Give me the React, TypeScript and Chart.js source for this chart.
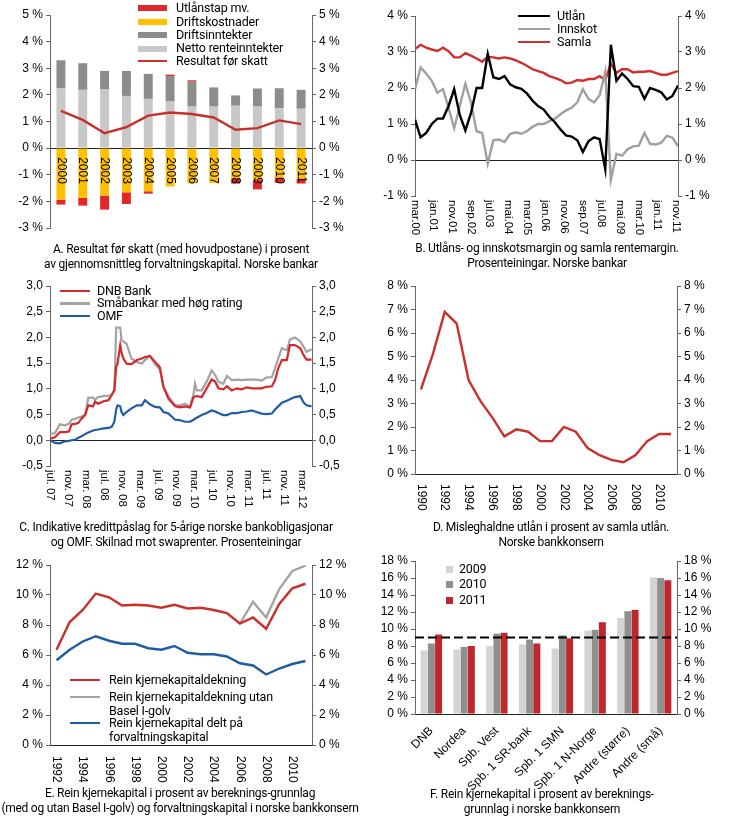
import React, { useEffect, useRef } from 'react';
import { Chart, registerables } from 'chart.js';

Chart.register(...registerables);

// ---------------- Panel A ----------------
const A_YEARS = ['2000', '2001', '2002', '2003', '2004', '2005', '2006', '2007', '2008', '2009', '2010', '2011'];
const A_NETTO = [2.25, 2.19, 2.2, 1.96, 1.85, 1.75, 1.56, 1.56, 1.59, 1.56, 1.5, 1.48];
const A_DRIFTSINNT = [1.05, 1.0, 0.7, 0.94, 0.94, 0.96, 0.94, 0.72, 0.39, 0.68, 0.75, 0.71];
const A_DRIFTSKOST = [-1.94, -1.87, -1.79, -1.66, -1.62, -1.44, -1.33, -1.31, -1.14, -1.18, -1.1, -1.14];
const A_UTLANSTAP = [-0.18, -0.29, -0.52, -0.44, -0.09, 0.05, 0.05, 0, -0.19, -0.37, -0.2, -0.19];
const A_RESULTAT = [1.4, 1.06, 0.56, 0.79, 1.22, 1.34, 1.28, 1.15, 0.69, 0.75, 1.04, 0.9];
const A_NAMES = ['Utlånstap mv.', 'Driftskostnader', 'Driftsinntekter', 'Netto renteinntekter', 'Resultat før skatt'];

// ---------------- Panel B ----------------
const B_MONTHS = [0, 3, 6, 9, 12, 15, 18, 21, 24, 27, 30, 33, 36, 39, 42, 45, 48, 51, 54, 57, 60, 63, 66, 69, 72, 75, 78, 81, 84, 87, 90, 93, 96, 99, 102, 105, 108, 111, 114, 117, 120, 123, 126, 129, 132, 135, 138, 141];
const B_UTLAN = [1.12, 0.63, 0.75, 1.0, 1.15, 1.15, 1.5, 1.97, 1.25, 0.82, 1.3, 2.0, 2.0, 2.95, 2.3, 2.25, 2.33, 2.1, 2.02, 1.98, 1.85, 1.65, 1.5, 1.4, 1.2, 1.05, 0.85, 0.68, 0.65, 0.55, 0.22, 0.52, 0.63, 0.58, -0.25, 3.2, 2.2, 2.4, 2.25, 2.05, 2.03, 1.7, 2.0, 1.95, 1.88, 1.68, 1.78, 2.07];
const B_INNSKOT = [1.97, 2.57, 2.4, 2.2, 1.87, 1.97, 1.45, 0.88, 1.5, 2.12, 1.6, 0.8, 0.75, -0.1, 0.55, 0.57, 0.5, 0.72, 0.77, 0.73, 0.8, 0.92, 1.0, 1.0, 1.08, 1.15, 1.27, 1.38, 1.45, 1.6, 1.97, 1.7, 1.6, 1.8, 2.45, -0.55, 0.17, 0.12, 0.3, 0.38, 0.4, 0.75, 0.45, 0.43, 0.48, 0.67, 0.62, 0.38];
const B_SAMLA = [3.08, 3.2, 3.12, 3.07, 3.03, 3.12, 3.02, 2.85, 2.85, 2.97, 2.9, 2.82, 2.73, 2.87, 2.85, 2.82, 2.85, 2.82, 2.77, 2.7, 2.62, 2.52, 2.47, 2.42, 2.33, 2.28, 2.22, 2.13, 2.15, 2.22, 2.2, 2.25, 2.25, 2.33, 2.22, 2.67, 2.42, 2.52, 2.52, 2.43, 2.45, 2.45, 2.47, 2.42, 2.37, 2.37, 2.42, 2.47];
const B_TICK_MONTHS = [0, 10, 20, 30, 40, 50, 60, 70, 80, 90, 100, 110, 120, 130, 140];
const B_TICK_LABELS = ['mar.00', 'jan.01', 'nov.01', 'sep.02', 'jul.03', 'mai.04', 'mar.05', 'jan.06', 'nov.06', 'sep.07', 'jul.08', 'mai.09', 'mar.10', 'jan.11', 'nov.11'];
const B_NAMES = ['Utlån', 'Innskot', 'Samla'];

// ---------------- Panel C ----------------
const C_MONTHS = [0, 1.1, 2.2, 3.3, 4.2, 4.8, 5.6, 6.3, 7.0, 7.8, 8.5, 9.6, 10.0, 10.7, 11.9, 13.0, 13.7, 14.3, 14.7, 15.0, 15.6, 15.9, 16.3, 17.0, 18.1, 19.3, 20.4, 21.1, 22.2, 23.3, 24.4, 25.2, 26.3, 27.8, 28.9, 30.0, 31.1, 31.9, 32.2, 32.6, 33.7, 34.8, 35.9, 36.7, 37.4, 38.5, 39.3, 40.4, 41.5, 42.6, 43.7, 44.8, 45.9, 47.0, 48.1, 49.3, 50.0, 50.7, 51.5, 52.6, 53.3, 54.4, 55.6, 56.3, 57.0, 58.1];
const C_DNB = [0.03, 0.06, 0.16, 0.16, 0.17, 0.31, 0.32, 0.34, 0.42, 0.49, 0.68, 0.66, 0.75, 0.71, 0.76, 0.78, 0.88, 0.97, 1.43, 1.49, 1.85, 1.7, 1.59, 1.49, 1.48, 1.56, 1.59, 1.62, 1.64, 1.53, 1.42, 1.04, 0.81, 0.66, 0.64, 0.66, 0.64, 0.84, 0.85, 0.86, 0.84, 1.01, 1.18, 1.14, 1.01, 0.99, 1.05, 0.97, 1.01, 0.99, 1.03, 1.01, 1.01, 1.01, 1.04, 1.05, 1.17, 1.4, 1.56, 1.56, 1.85, 1.85, 1.79, 1.66, 1.57, 1.57];
const C_SMA = [0.12, 0.14, 0.31, 0.29, 0.32, 0.4, 0.42, 0.44, 0.46, 0.49, 0.83, 0.83, 0.79, 0.84, 0.86, 0.87, 0.88, 0.97, 2.19, 2.19, 2.19, 1.95, 1.92, 1.88, 1.59, 1.52, 1.49, 1.56, 1.64, 1.48, 1.38, 1.04, 0.86, 0.68, 0.68, 0.71, 0.65, 0.91, 1.1, 0.97, 0.97, 1.14, 1.36, 1.27, 1.14, 1.1, 1.25, 1.17, 1.18, 1.17, 1.18, 1.18, 1.18, 1.16, 1.22, 1.23, 1.4, 1.59, 1.79, 1.75, 1.96, 2.0, 1.92, 1.82, 1.72, 1.77];
const C_OMF = [0.0, -0.05, -0.06, -0.02, -0.01, 0.0, 0.01, 0.05, 0.08, 0.12, 0.15, 0.19, 0.2, 0.21, 0.23, 0.24, 0.26, 0.36, 0.6, 0.68, 0.66, 0.55, 0.49, 0.55, 0.62, 0.68, 0.68, 0.78, 0.7, 0.65, 0.64, 0.55, 0.52, 0.4, 0.39, 0.36, 0.36, 0.4, 0.42, 0.44, 0.49, 0.53, 0.58, 0.56, 0.53, 0.49, 0.49, 0.53, 0.53, 0.55, 0.56, 0.58, 0.55, 0.52, 0.51, 0.52, 0.6, 0.66, 0.73, 0.77, 0.8, 0.84, 0.86, 0.74, 0.68, 0.66];
const C_TICK_MONTHS = [0, 4, 8, 12, 16, 20, 24, 28, 32, 36, 40, 44, 48, 52, 56];
const C_TICK_LABELS = ['jul. 07', 'nov. 07', 'mar. 08', 'jul. 08', 'nov. 08', 'mar. 09', 'jul. 09', 'nov. 09', 'mar. 10', 'jul. 10', 'nov. 10', 'mar. 11', 'jul. 11', 'nov. 11', 'mar. 12'];
const C_NAMES = ['DNB Bank', 'Småbankar med høg rating', 'OMF'];

// ---------------- Panel D ----------------
const D_YEARS = ['1990', '1991', '1992', '1993', '1994', '1995', '1996', '1997', '1998', '1999', '2000', '2001', '2002', '2003', '2004', '2005', '2006', '2007', '2008', '2009', '2010', '2011'];
const D_MISLEG = [3.6, 5.1, 6.9, 6.4, 4.0, 3.1, 2.4, 1.6, 1.9, 1.8, 1.4, 1.4, 2.0, 1.8, 1.1, 0.8, 0.6, 0.5, 0.8, 1.4, 1.7, 1.7];

// ---------------- Panel E ----------------
const E_YEARS = ['1992', '1993', '1994', '1995', '1996', '1997', '1998', '1999', '2000', '2001', '2002', '2003', '2004', '2005', '2006', '2007', '2008', '2009', '2010', '2011'];
const E_REIN = [6.35, 8.2, 9.0, 10.1, 9.85, 9.3, 9.35, 9.3, 9.15, 9.35, 9.1, 9.15, 9.0, 8.8, 8.1, 8.5, 7.75, 9.4, 10.45, 10.75];
const E_UTAN_GOLV = [null, null, null, null, null, null, null, null, null, null, null, null, null, null, 8.1, 9.55, 8.5, 10.4, 11.6, 11.95];
const E_FORVALT = [5.65, 6.35, 6.9, 7.25, 6.95, 6.75, 6.75, 6.45, 6.35, 6.6, 6.15, 6.05, 6.05, 5.9, 5.45, 5.3, 4.7, 5.1, 5.4, 5.6];
const E_NAMES = [['Rein kjernekapitaldekning'], ['Rein kjernekapitaldekning utan', 'Basel I-golv'], ['Rein kjernekapital delt på', 'forvaltningskapital']];

// ---------------- Panel F ----------------
const F_BANKS = ['DNB', 'Nordea', 'Spb. Vest', 'Spb. 1 SR-bank', 'Spb. 1 SMN', 'Spb. 1 N-Norge', 'Andre (større)', 'Andre (små)'];
const F_2009 = [7.5, 7.6, 8.0, 8.2, 7.7, 9.8, 11.3, 16.1];
const F_2010 = [8.3, 7.9, 9.45, 8.75, 9.25, 9.9, 12.1, 16.0];
const F_2011 = [9.35, 8.0, 9.55, 8.3, 8.9, 10.8, 12.25, 15.75];
const F_THRESHOLD = 9;
const F_NAMES = ['2009', '2010', '2011'];

// ---------------- captions ----------------
const CAP_A = ['A. Resultat før skatt (med hovudpostane) i prosent', 'av gjennomsnittleg forvaltningskapital. Norske bankar'];
const CAP_B = ['B. Utlåns- og innskotsmargin og samla rentemargin.', 'Prosenteiningar. Norske bankar'];
const CAP_C = ['C. Indikative kredittpåslag for 5-årige norske bankobligasjonar', 'og OMF. Skilnad mot swaprenter. Prosenteiningar'];
const CAP_D = ['D. Misleghaldne utlån i prosent av samla utlån.', 'Norske bankkonsern'];
const CAP_E = ['E. Rein kjernekapital i prosent av bereknings-grunnlag', '(med og utan Basel I-golv) og forvaltningskapital i norske bankkonsern'];
const CAP_F = ['F. Rein kjernekapital i prosent av bereknings-', 'grunnlag i norske bankkonsern'];

// ---------------- styling ----------------
const TICK_FONT = '"Liberation Sans", Arial, sans-serif';
const NARROW = 'Roboto, "Liberation Sans", sans-serif';

const RED = '#c8302c';
const BRIGHT_RED = '#e2272b';
const YELLOW = '#ffc000';
const DARK_GREY = '#8c8c8c';
const LIGHT_GREY = '#c8c8c8';

const pct = (v: any) => `${v} %`;
const comma = (v: any) => Number(v).toFixed(1).replace('.', ',');

function yAxis(position: 'left' | 'right', min: number, max: number, step: number, fmt: (v: any) => string, width: number, zeroLine: boolean, stacked = false) {
  return {
    position,
    min,
    max,
    stacked,
    ticks: { stepSize: step, callback: fmt, autoSkip: false, color: '#000', font: { family: TICK_FONT, size: 12 }, padding: 3 },
    grid: {
      display: true,
      drawOnChartArea: zeroLine,
      drawTicks: true,
      tickLength: 4,
      tickColor: '#666',
      color: (c: any) => (c.tick && c.tick.value === 0 ? '#222' : 'rgba(0,0,0,0)'),
      lineWidth: 1,
    },
    border: { display: true, color: '#666', width: 1 },
    afterFit: (s: any) => {
      s.width = width;
    },
  };
}

function vLabels(values: number[], labels: string[], offset: number, size: number, baseValue?: number) {
  return {
    id: 'vlabels',
    afterDraw(chart: any) {
      const ctx = chart.ctx;
      const xs = chart.scales.x;
      const y0 = baseValue !== undefined ? chart.scales.y.getPixelForValue(baseValue) + offset : chart.chartArea.bottom + offset;
      ctx.save();
      ctx.fillStyle = '#000';
      ctx.font = `${size}px ${TICK_FONT}`;
      ctx.textAlign = 'left';
      ctx.textBaseline = 'middle';
      values.forEach((v, i) => {
        const x = xs.getPixelForValue(v);
        ctx.save();
        ctx.translate(x, y0);
        ctx.rotate(Math.PI / 2);
        ctx.fillText(labels[i], 0, 0);
        ctx.restore();
      });
      ctx.restore();
    },
  };
}

const dashedLine = (value: number) => ({
  id: 'threshold',
  afterDatasetsDraw(chart: any) {
    const ctx = chart.ctx;
    const y = chart.scales.y.getPixelForValue(value);
    const { left, right } = chart.chartArea;
    ctx.save();
    ctx.strokeStyle = '#000';
    ctx.lineWidth = 2;
    ctx.setLineDash([9, 4]);
    ctx.beginPath();
    ctx.moveTo(left, y);
    ctx.lineTo(right, y);
    ctx.stroke();
    ctx.restore();
  },
});

const baseOptions = (top: number, bottom: number) => ({
  responsive: false,
  animation: false,
  devicePixelRatio: 1,
  layout: { padding: { top, bottom, left: 0, right: 0 } },
  plugins: { legend: { display: false }, tooltip: { enabled: false } },
  elements: { point: { radius: 0 }, line: { tension: 0 } },
});

// ---------------- chart configs ----------------
function configA(): any {
  return {
    type: 'bar',
    data: {
      labels: A_YEARS,
      datasets: [
        { type: 'line', label: A_NAMES[4], data: A_RESULTAT, borderColor: RED, borderWidth: 2.4, pointRadius: 0, stack: 'line', yAxisID: 'y' },
        { label: A_NAMES[3], data: A_NETTO, backgroundColor: LIGHT_GREY, stack: 'bars', yAxisID: 'y' },
        { label: A_NAMES[2], data: A_DRIFTSINNT, backgroundColor: DARK_GREY, stack: 'bars', yAxisID: 'y' },
        { label: A_NAMES[1], data: A_DRIFTSKOST, backgroundColor: YELLOW, stack: 'bars', yAxisID: 'y' },
        { label: A_NAMES[0], data: A_UTLANSTAP, backgroundColor: BRIGHT_RED, stack: 'bars', yAxisID: 'y' },
      ],
    },
    options: {
      ...baseOptions(15, 12),
      datasets: { bar: { categoryPercentage: 1, barPercentage: 0.41 } },
      scales: {
        x: { type: 'category', display: false, stacked: true, offset: true },
        y: yAxis('left', -3, 5, 1, pct, 50, true, true),
        y2: yAxis('right', -3, 5, 1, pct, 53, false),
      },
    },
    plugins: [vLabels(A_YEARS.map((_, i) => i), A_YEARS, 9, 12, 0)],
  };
}

function configB(): any {
  const pts = (arr: number[]) => B_MONTHS.map((m, i) => ({ x: m, y: arr[i] }));
  return {
    type: 'line',
    data: {
      datasets: [
        { label: B_NAMES[0], data: pts(B_UTLAN), borderColor: '#000', borderWidth: 2.4 },
        { label: B_NAMES[1], data: pts(B_INNSKOT), borderColor: '#a0a0a0', borderWidth: 2.4 },
        { label: B_NAMES[2], data: pts(B_SAMLA), borderColor: '#d22e2e', borderWidth: 2.4 },
      ],
    },
    options: {
      ...baseOptions(16, 44),
      scales: {
        x: { type: 'linear', display: false, min: 0, max: 141 },
        y: yAxis('left', -1, 4, 1, pct, 50, true),
        y2: yAxis('right', -1, 4, 1, pct, 52, false),
      },
    },
    plugins: [vLabels(B_TICK_MONTHS, B_TICK_LABELS, 4, 11.5)],
  };
}

function configC(): any {
  const pts = (arr: number[]) => C_MONTHS.map((m, i) => ({ x: m, y: arr[i] }));
  return {
    type: 'line',
    data: {
      datasets: [
        { label: C_NAMES[0], data: pts(C_DNB), borderColor: '#d22a2a', borderWidth: 2.2 },
        { label: C_NAMES[1], data: pts(C_SMA), borderColor: '#a3a3a3', borderWidth: 2.2 },
        { label: C_NAMES[2], data: pts(C_OMF), borderColor: '#1f5ca6', borderWidth: 2.2 },
      ],
    },
    options: {
      ...baseOptions(16, 54),
      scales: {
        x: { type: 'linear', display: false, min: 0, max: 58.2 },
        y: yAxis('left', -0.5, 3, 0.5, comma, 50, true),
        y2: yAxis('right', -0.5, 3, 0.5, comma, 53, false),
      },
    },
    plugins: [vLabels(C_TICK_MONTHS, C_TICK_LABELS, 4, 11.5)],
  };
}

function configD(): any {
  const idx = D_YEARS.map((_, i) => i).filter((i) => i % 2 === 0 && i < D_YEARS.length - 1);
  return {
    type: 'line',
    data: {
      labels: D_YEARS,
      datasets: [{ label: 'Misleghaldne utlån', data: D_MISLEG, borderColor: RED, borderWidth: 2.4 }],
    },
    options: {
      ...baseOptions(16, 46),
      scales: {
        x: { type: 'category', display: false, offset: true },
        y: yAxis('left', 0, 8, 1, pct, 50, true),
        y2: yAxis('right', 0, 8, 1, pct, 53, false),
      },
    },
    plugins: [vLabels(idx, idx.map((i) => D_YEARS[i]), 10, 12)],
  };
}

function configE(): any {
  const idx = E_YEARS.map((_, i) => i).filter((i) => i % 2 === 0);
  return {
    type: 'line',
    data: {
      labels: E_YEARS,
      datasets: [
        { label: E_NAMES[0].join(' '), data: E_REIN, borderColor: RED, borderWidth: 2.4 },
        { label: E_NAMES[1].join(' '), data: E_UTAN_GOLV, borderColor: '#a3a3a3', borderWidth: 2.4 },
        { label: E_NAMES[2].join(' '), data: E_FORVALT, borderColor: '#1f5ca6', borderWidth: 2.4 },
      ],
    },
    options: {
      ...baseOptions(15, 45),
      scales: {
        x: { type: 'category', display: false, offset: true },
        y: yAxis('left', 0, 12, 2, pct, 50, true),
        y2: yAxis('right', 0, 12, 2, pct, 53, false),
      },
    },
    plugins: [vLabels(idx, idx.map((i) => E_YEARS[i]), 11, 12)],
  };
}

function configF(): any {
  return {
    type: 'bar',
    data: {
      labels: F_BANKS,
      datasets: [
        { label: F_NAMES[0], data: F_2009, backgroundColor: '#d4d4d4' },
        { label: F_NAMES[1], data: F_2010, backgroundColor: '#8f8f8f' },
        { label: F_NAMES[2], data: F_2011, backgroundColor: '#c0272d' },
      ],
    },
    options: {
      ...baseOptions(16, 0),
      datasets: { bar: { categoryPercentage: 0.66, barPercentage: 0.97 } },
      scales: {
        x: {
          type: 'category',
          offset: true,
          grid: { display: false },
          border: { display: false },
          ticks: { minRotation: 45, maxRotation: 45, autoSkip: false, color: '#000', font: { family: TICK_FONT, size: 12 }, padding: 2 },
          afterFit: (s: any) => {
            s.height = 76;
          },
        },
        y: yAxis('left', 0, 18, 2, pct, 50, true),
        y2: yAxis('right', 0, 18, 2, pct, 53, false),
      },
    },
    plugins: [dashedLine(F_THRESHOLD)],
  };
}

// ---------------- components ----------------
function ChartBox({ left, top, width, height, make }: { left: number; top: number; width: number; height: number; make: () => any }) {
  const ref = useRef<HTMLCanvasElement>(null);
  useEffect(() => {
    const chart = new Chart(ref.current as HTMLCanvasElement, make());
    return () => chart.destroy();
  }, []);
  return <canvas ref={ref} width={width} height={height} style={{ position: 'absolute', left, top, width, height }} />;
}

type LegendEntry = { lines: string[]; color: string; kind: 'bar' | 'line' | 'square'; y: number };

function Legend({ sx, sw, tx, entries, size = 12.5 }: { sx: number; sw: number; tx: number; entries: LegendEntry[]; size?: number }) {
  return (
    <>
      {entries.map((e, i) => {
        const h = e.kind === 'bar' ? 6 : e.kind === 'line' ? 2.6 : 7;
        const w = e.kind === 'square' ? 7 : sw;
        return (
          <React.Fragment key={i}>
            <div style={{ position: 'absolute', left: sx, top: e.y - h / 2, width: w, height: h, background: e.color }} />
            <div style={{ position: 'absolute', left: tx, top: e.y - 7.5, fontFamily: NARROW, fontSize: size, letterSpacing: '-0.2px', lineHeight: '14.5px', color: '#000', whiteSpace: 'nowrap' }}>
              {e.lines.map((l, j) => (
                <div key={j}>{l}</div>
              ))}
            </div>
          </React.Fragment>
        );
      })}
    </>
  );
}

function Caption({ cx, top, lines }: { cx: number; top: number; lines: string[] }) {
  return (
    <div style={{ position: 'absolute', left: cx - 250, width: 500, top, textAlign: 'center', fontFamily: NARROW, fontSize: 12, letterSpacing: '-0.25px', lineHeight: '15px', color: '#000', whiteSpace: 'nowrap' }}>
      {lines.map((l, i) => (
        <div key={i}>{l}</div>
      ))}
    </div>
  );
}

export default function App() {
  return (
    <div style={{ position: 'absolute', left: 0, top: 0, width: 730, height: 826, background: '#fff', overflow: 'hidden' }}>
      <ChartBox left={0} top={0} width={365} height={240} make={configA} />
      <ChartBox left={365} top={0} width={365} height={240} make={configB} />
      <ChartBox left={0} top={270} width={365} height={250} make={configC} />
      <ChartBox left={365} top={270} width={365} height={250} make={configD} />
      <ChartBox left={0} top={550} width={365} height={240} make={configE} />
      <ChartBox left={365} top={545} width={365} height={245} make={configF} />

      <Legend
        sx={138}
        sw={29}
        tx={176}
        entries={[
          { lines: [A_NAMES[0]], color: BRIGHT_RED, kind: 'bar', y: 8 },
          { lines: [A_NAMES[1]], color: YELLOW, kind: 'bar', y: 22 },
          { lines: [A_NAMES[2]], color: DARK_GREY, kind: 'bar', y: 35 },
          { lines: [A_NAMES[3]], color: LIGHT_GREY, kind: 'bar', y: 48.5 },
          { lines: [A_NAMES[4]], color: RED, kind: 'line', y: 61 },
        ]}
      />
      <Legend
        sx={518}
        sw={32}
        tx={557}
        entries={[
          { lines: [B_NAMES[0]], color: '#000', kind: 'line', y: 16 },
          { lines: [B_NAMES[1]], color: '#a0a0a0', kind: 'line', y: 29 },
          { lines: [B_NAMES[2]], color: '#d22e2e', kind: 'line', y: 42 },
        ]}
      />
      <Legend
        sx={60}
        sw={30}
        tx={97}
        entries={[
          { lines: [C_NAMES[0]], color: '#d22a2a', kind: 'line', y: 291 },
          { lines: [C_NAMES[1]], color: '#a3a3a3', kind: 'line', y: 303.5 },
          { lines: [C_NAMES[2]], color: '#1f5ca6', kind: 'line', y: 316 },
        ]}
      />
      <Legend
        sx={70}
        sw={30}
        tx={109}
        entries={[
          { lines: E_NAMES[0], color: RED, kind: 'line', y: 680 },
          { lines: E_NAMES[1], color: '#a3a3a3', kind: 'line', y: 697 },
          { lines: E_NAMES[2], color: '#1f5ca6', kind: 'line', y: 723 },
        ]}
      />
      <Legend
        sx={446}
        sw={7}
        tx={459}
        entries={[
          { lines: [F_NAMES[0]], color: '#d4d4d4', kind: 'square', y: 569 },
          { lines: [F_NAMES[1]], color: '#8f8f8f', kind: 'square', y: 584.5 },
          { lines: [F_NAMES[2]], color: '#c0272d', kind: 'square', y: 600 },
        ]}
      />

      <Caption cx={181} top={242} lines={CAP_A} />
      <Caption cx={547} top={241} lines={CAP_B} />
      <Caption cx={176} top={520} lines={CAP_C} />
      <Caption cx={551} top={520} lines={CAP_D} />
      <Caption cx={180} top={786} lines={CAP_E} />
      <Caption cx={542} top={787} lines={CAP_F} />
    </div>
  );
}
